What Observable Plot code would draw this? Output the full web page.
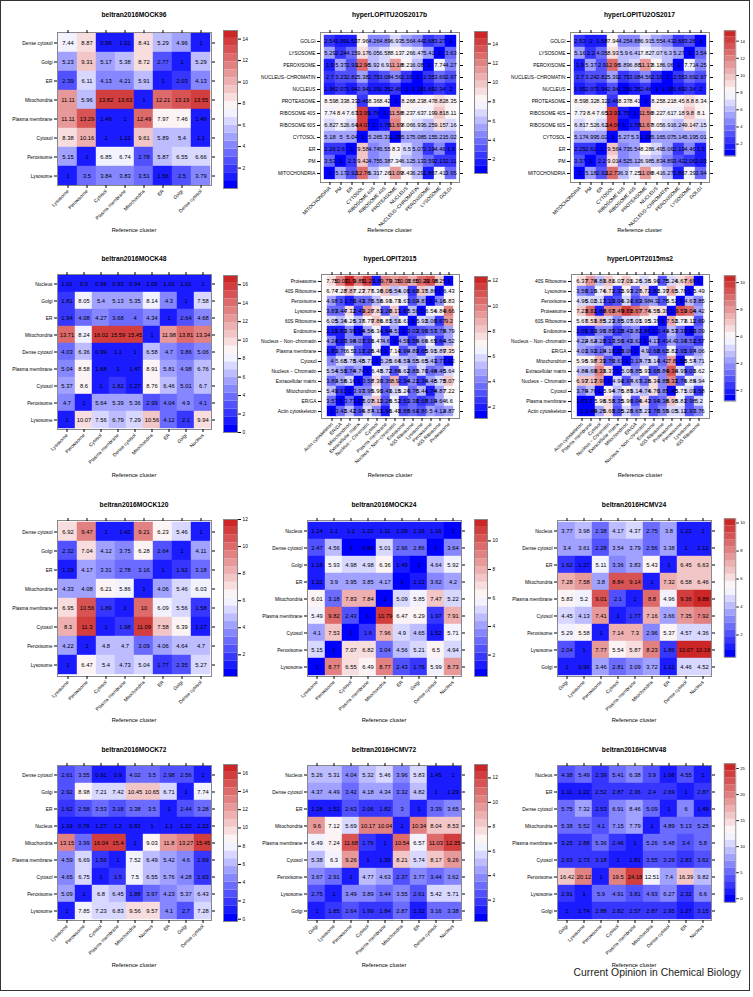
<!DOCTYPE html>
<html><head><meta charset="utf-8">
<script src="https://cdn.jsdelivr.net/npm/d3@7"></script>
<script src="https://cdn.jsdelivr.net/npm/@observablehq/plot@0.6"></script>
<style>
body{margin:0;background:#fff;font-family:"Liberation Sans",Arial,Helvetica,sans-serif;}
#page{position:relative;width:753px;height:997px;overflow:hidden;background:#fff;}
.abs{position:absolute;}
.title{font-weight:bold;font-size:6.7px;transform:translate(-50%,-50%);white-space:nowrap;color:#000;}
.xlab{font-size:5.7px;transform:translate(-50%,-50%);white-space:nowrap;color:#000;}
.cap{font-size:10.4px;white-space:nowrap;color:#222;}
#border{position:absolute;left:0;top:0;width:748px;height:989px;border:1.5px solid #333;}
svg{overflow:visible;}
</style></head><body><div id="page"><div id="border"></div></div>
<script>
// ---------------- DATA ----------------
const mock96Classes = ["Lysosome","Peroxisome","Cytosol","Plasma membrane","Mitochondria","ER","Golgi","Dense cytosol"];
const mock96Values = [
 [7.44,8.87,0.99,1.01,8.41,5.29,4.96,1],
 [5.23,9.31,5.17,5.38,8.72,2.77,1,5.29],
 [2.39,6.11,4.13,4.21,5.91,1,2.03,4.13],
 [11.11,5.96,13.82,13.63,1,12.21,13.19,13.55],
 [11.11,13.29,1.49,1,12.49,7.97,7.46,1.49],
 [8.38,10.16,1,1.12,9.61,5.89,5.4,1.1],
 [5.15,1,6.85,6.74,2.78,5.87,6.55,6.66],
 [1,3.5,3.84,3.83,3.51,1.56,2.5,3.79]];
const mock96Ticks = [2,4,6,8,10,12,14];

const u2os2017bClasses = ["MITOCHONDRIA","PM","ER","CYTOSOL","RIBOSOME 60S","RIBOSOME 40S","PROTEASOME","NUCLEUS","NUCLEUS\u2212CHROMATIN","PEROXISOME","LYSOSOME","GOLGI"];
const u2os2017bValues = [
 [2.54,1.99,1.53,7.96,4.26,4.89,6.93,5.56,4.44,2.68,3.27,1],
 [5.29,2.24,4.15,9.17,6.05,6.58,8.13,7.26,6.47,5.41,1,3.63],
 [1.9,5.37,2.91,12.96,5.92,6.9,11.18,8.21,6.08,1,7.74,4.27],
 [2.7,3.23,2.82,5.38,2.75,3.08,4.56,2.19,1,2.55,3.69,2.97],
 [1.96,2.07,1.94,2.94,1.29,1.35,2.46,1,1.18,1.69,2.34,2],
 [8.59,8.33,8.33,2.46,8.36,8.42,1,8.26,8.23,8.47,8.82,8.35],
 [7.74,8.4,7.67,13.95,1.76,1,11.58,8.23,7.63,7.19,9.81,8.11],
 [6.82,7.52,6.64,14.07,1,1.78,11.69,8.06,6.93,6.25,9.15,7.16],
 [5.18,5,5.04,1,5.26,5.31,1.28,5.17,5.08,5.15,5.21,5.02],
 [2.26,2.6,1,9.58,4.74,5.55,8.3,6.5,5.07,2.19,4.46,1.9],
 [3.53,1,2.3,9.42,4.75,5.38,7.34,6.12,5.13,3.59,2.13,2.11],
 [1,5.17,2.92,12.76,6.31,7.26,11.09,8.43,6.29,1.86,7.41,3.95]];
const u2os2017bTicks = [2,4,6,8,10,12,14];

const u2os2017Classes = ["MITOCHONDRIA","PM","ER","CYTOSOL","RIBOSOME 60S","RIBOSOME 40S","PROTEASOME","NUCLEUS","NUCLEUS\u2212CHROMATIN","PEROXISOME","LYSOSOME","GOLGI"];
const u2os2017Values = [
 [2.53,2,1.58,7.94,4.25,4.88,6.91,5.55,4.43,2.68,3.26,1],
 [5.16,2.2,4.05,8.93,5.9,6.41,7.82,7.07,6.3,5.27,1,3.54],
 [1.9,5.37,2.9,12.96,5.89,6.88,11.13,8.18,6.06,1,7.71,4.25],
 [2.7,3.24,2.82,5.39,2.75,3.08,4.56,2.19,1,2.55,3.69,2.97],
 [1.95,2.07,1.94,2.94,1.29,1.35,2.46,1,1.18,1.69,2.34,2],
 [8.59,8.32,8.32,2.46,8.37,8.41,1,8.25,8.21,8.45,8.8,8.34],
 [7.73,8.4,7.65,13.93,1.75,1,11.56,8.22,7.61,7.18,9.8,8.1],
 [6.81,7.52,6.62,14.04,1,1.78,11.67,8.05,6.91,6.24,9.14,7.15],
 [5.17,4.99,5.02,1,5.27,5.3,1.28,5.16,5.07,5.14,5.19,5.01],
 [2.25,2.61,1,9.56,4.73,5.54,8.28,6.49,5.06,2.19,4.46,1.9],
 [3.37,1,2.2,9.01,4.52,5.12,6.98,5.83,4.89,3.42,2.06,2.03],
 [1,5.18,2.92,12.73,6.3,7.25,11.06,8.41,6.27,1.86,7.39,3.94]];
const u2os2017Ticks = [2,4,6,8,10,12,14];

const mock48Classes = ["Lysosome","Peroxisome","Cytosol","Plasma membrane","Dense cytosol","Mitochondria","ER","Golgi","Nucleus"];
const mock48Values = [
 [1.01,0.9,0.96,0.93,0.94,1.05,1.02,1.01,1],
 [1.81,8.05,5.4,5.13,5.35,8.14,4.3,1,7.58],
 [1.94,4.08,4.27,3.68,4,4.34,1,2.64,4.68],
 [13.71,8.24,16.02,15.59,15.45,1,11.98,13.81,13.34],
 [4.03,6.36,0.99,1.1,1,6.58,4.7,3.86,5.06],
 [5.04,8.58,1.68,1,1.47,8.91,5.81,4.98,6.76],
 [5.37,8.6,1,1.82,1.27,8.76,6.46,5.01,6.7],
 [4.7,1,5.64,5.39,5.36,2.99,4.04,4.9,4.1],
 [1,10.07,7.56,6.79,7.29,10.56,4.12,2.1,9.94]];
const mock48Ticks = [0,2,4,6,8,10,12,14,16];

const lopit2015Classes = ["Actin cytoskeleton","ER/GA","Mitochondrion","Extracellular matrix","Nucleus \u2212 Chromatin","Cytosol","Plasma membrane","Nucleus \u2212 Non\u2212chromatin","Endosome","60S Ribosome","Lysosome","Peroxisome","40S Ribosome","Proteasome"];
const lopit2015Values = [
 [7.75,10.07,11.9,9.85,11.27,1.8,9.79,9.35,10.02,8.85,10.29,10.98,8.25,1],
 [6.74,7.28,7.87,7.23,7.77,6.36,8.06,5.54,6.06,2.63,8.37,5.86,1,6.43],
 [4.98,3,1.76,3.43,3.76,5.58,6.93,6.73,6.67,3.03,4.87,1,4.16,6.83],
 [3.83,3.44,7.32,2.43,9.26,7.81,3.26,8.17,1.67,5.59,1,6.54,6.84,9.66],
 [6.05,5.34,6.26,5.37,6.79,7.86,6.81,5.51,6.61,1,5.92,5.06,2.67,9.2],
 [2.19,1.83,3.99,1.34,4.56,6.34,1.94,4.51,1,3.03,2.96,3.57,3.75,4.79],
 [4.24,2.07,3.98,4.07,2.33,6.47,4.6,1,4.56,2.55,4.69,6.65,2.64,4.52],
 [1.83,3.76,6.5,3.17,2.28,6.48,1,7.14,2.99,4.89,2.65,5.91,5.89,7.35],
 [4,5.68,5.78,5.48,5.71,1,5.26,5.64,5.53,4.55,5.65,5.41,3.77,1.12],
 [5.54,4.56,3.74,4.74,1,6.48,5.72,2.84,5.62,3.83,5.76,3.48,4.45,5.64],
 [3.83,4.58,6.16,1,3.58,7.36,3.36,8.9,2.34,4.21,2.36,4.48,5.75,8.07],
 [5.49,2.61,1,3.97,3.95,6.96,3.43,6.15,6.24,3.76,5.44,1.74,4.87,7.22],
 [3.57,1,3.77,1.27,5.07,8.11,3.28,6.52,2.51,3.38,2.68,3.19,4.64,6.6],
 [1,3.42,5.42,2.94,5.87,4.13,1.96,6.48,2.88,3.64,2.86,5,4.12,4.87]];
const lopit2015Ticks = [2,4,6,8,10,12];

const lopit2015ms2Classes = ["Actin cytoskeleton","Plasma membrane","Cytosol","Nucleus \u2212 Chromatin","Extracellular matrix","Mitochondrion","ER/GA","Nucleus \u2212 Non\u2212chromatin","Endosome","60S Ribosome","Proteasome","Peroxisome","Lysosome","40S Ribosome"];
const lopit2015ms2Values = [
 [6.37,7.78,4.83,6.81,6.03,7.01,6.26,5.36,5.96,2.75,5.24,6.67,7.69,1],
 [3.56,3.19,5.74,6.71,2.32,5.93,3.27,6.72,1.82,5.39,7.65,5.78,1,5.49],
 [4.96,5.02,5.17,2.19,3.04,5.34,2.63,3.98,4.3,2.76,5.52,1,4.67,3.85],
 [7.23,8.82,1.69,8.63,8.49,9.81,8.67,7.74,6.55,6.39,1,9.53,9.04,4.42],
 [5.67,6.53,6.85,5.23,3.85,5.07,5.01,5.95,5.39,1,7.52,5.73,6.11,2.69],
 [2.09,1.93,3.96,3.89,2.28,3.41,3.82,1.86,1,2.41,4.53,3.31,0.96,3.09],
 [4.22,4.62,4.28,2.17,3.56,3.41,3.62,1,4.17,2.41,4.4,3.34,3.51,2.57],
 [4.01,3.92,3.19,4.18,1.28,3.06,1,4.9,2.68,2.62,5.82,2.95,2.97,4.06],
 [5.96,5.98,7.39,2.76,3.63,1,3.17,4.73,5.14,3.42,7.8,1.58,5.57,4.71],
 [4.86,4.69,8.33,6.37,1,5.08,3.85,5.93,2.68,3.84,9.36,4.99,3.03,5.62],
 [6.93,7.13,7.99,1,4.94,2.97,4.67,3.28,6.34,3.85,8.33,2.74,5.85,4.94],
 [3.79,4.76,1,5.94,4.76,5.89,5.14,4.74,6.76,3.85,1.45,5.71,5.09,2.58],
 [1.63,1,5.98,6.58,3.35,5.96,3.04,6.43,2.94,3.38,6.98,5.81,2.98,5.2],
 [1,1.45,4.25,6.68,3.05,5.28,3.67,5.23,2.78,3.59,5.05,5.11,2.97,3.76]];
const lopit2015ms2Ticks = [2,4,6,8,10];

const mock120Classes = ["Lysosome","Peroxisome","Cytosol","Plasma membrane","Mitochondria","ER","Golgi","Dense cytosol"];
const mock120Values = [
 [6.92,9.47,1,1.42,9.21,6.23,5.46,1],
 [2.32,7.04,4.12,3.75,6.28,2.64,1,4.11],
 [1.19,4.17,3.31,2.78,3.16,1,1.92,3.18],
 [4.33,4.08,6.21,5.86,1,4.06,5.46,6.03],
 [6.95,10.56,1.89,1,10,6.09,5.56,1.58],
 [8.3,11.3,1,1.98,11.09,7.58,6.39,1.17],
 [4.22,1,4.8,4.7,3.09,4.06,4.64,4.7],
 [1,6.47,5.4,4.73,5.04,1.77,2.35,5.27]];
const mock120Ticks = [2,4,6,8,10,12];

const mock24Classes = ["Lysosome","Peroxisome","Cytosol","Plasma membrane","Mitochondria","ER","Golgi","Dense cytosol","Nucleus"];
const mock24Values = [
 [1.14,1.1,1.2,1.22,1.11,1.09,1.16,1.16,1],
 [2.47,4.56,1,0.96,5.01,2.96,2.86,1,3.64],
 [1.18,5.93,4.98,4.98,6.36,1.49,1,4.64,5.92],
 [1.22,3.9,3.95,3.85,4.17,1,1.12,3.62,4.2],
 [6.01,3.18,7.83,7.84,1,5.09,5.85,7.47,5.22],
 [5.49,9.82,2.43,1,10.79,6.47,6.29,1.97,7.91],
 [4.1,7.53,1,1.6,7.96,4.9,4.65,1.52,5.71],
 [5.15,1,7.07,6.82,3.04,4.56,5.21,6.5,4.94],
 [1,8.77,6.55,6.49,8.77,2.43,1.76,5.99,8.73]];
const mock24Ticks = [2,4,6,8,10];

const hcmv24Classes = ["Golgi","Lysosome","Peroxisome","Cytosol","Plasma membrane","Mitochondria","ER","Dense cytosol","Nucleus"];
const hcmv24Values = [
 [3.77,3.98,2.38,4.17,4.37,2.75,3.8,1.22,1],
 [3.4,3.61,2.28,3.54,3.79,2.56,3.38,1,1.12],
 [1.62,1.27,5.11,3.36,3.83,5.43,1,6.45,6.63],
 [7.28,7.58,3.8,8.84,9.14,1,7.32,6.58,6.46],
 [5.83,5.2,9.01,2.1,1,8.8,4.96,9.36,9.88],
 [4.45,4.13,7.41,1,1.77,7.16,3.66,7.35,7.92],
 [5.29,5.58,1,7.14,7.3,2.96,5.37,4.57,4.36],
 [2.04,1,7.77,5.54,5.87,8.23,1.86,10.07,10.16],
 [1,0.96,3.46,2.81,3.09,3.72,1.12,4.46,4.52]];
const hcmv24Ticks = [2,4,6,8,10];

const mock72Classes = ["Lysosome","Peroxisome","Cytosol","Plasma membrane","Mitochondria","Nucleus","ER","Golgi","Dense cytosol"];
const mock72Values = [
 [2.61,3.55,0.91,0.9,4.02,3.5,2.98,2.56,1],
 [2.92,8.98,7.21,7.42,10.45,10.65,6.71,1,7.74],
 [1.62,2.58,3.53,3.18,3.38,3.5,1,2.44,3.28],
 [1.19,0.76,1.27,1.2,0.82,1,1.1,1.22,1.22],
 [13.15,3.99,16.04,15.4,1,9.03,11.8,13.27,15.45],
 [4.59,6.69,1.56,1,7.52,6.49,5.42,4.6,1.69],
 [4.65,6.75,1,1.5,7.5,6.55,5.76,4.28,1.63],
 [5.09,1,6.8,6.45,1.88,3.97,4.23,5.37,6.43],
 [1,7.85,7.23,6.83,9.56,9.57,4.1,2.7,7.28]];
const mock72Ticks = [0,2,4,6,8,10,12,14,16];

const hcmv72Classes = ["Golgi","Lysosome","Peroxisome","Cytosol","Plasma membrane","Mitochondria","ER","Dense cytosol","Nucleus"];
const hcmv72Values = [
 [5.26,5.31,4.04,5.32,5.46,3.96,5.83,1.45,1],
 [4.37,4.49,3.42,4.18,4.34,3.32,4.82,1,1.29],
 [1.28,1.52,2.63,2.06,1.82,3,1,3.39,3.65],
 [9.6,7.12,5.69,10.17,10.04,1,10.34,8.04,8.53],
 [6.49,7.24,11.68,1.76,1,10.54,6.57,11.03,12.35],
 [5.38,6.3,9.26,1,1.35,8.21,5.74,8.17,9.26],
 [3.67,2.91,1,4.77,4.63,2.37,3.77,3.44,3.62],
 [2.75,1,3.49,3.89,3.44,3.55,2.61,5.42,5.71],
 [1,1.85,2.64,1.99,1.84,2.87,1.32,3.16,3.38]];
const hcmv72Ticks = [2,4,6,8,10,12];

const hcmv48Classes = ["Golgi","Lysosome","Peroxisome","Cytosol","Plasma membrane","Mitochondria","Dense cytosol","ER","Nucleus"];
const hcmv48Values = [
 [4.38,5.49,2.39,5.41,6.38,3.9,1.06,4.55,1],
 [1.11,1.22,2.52,2.87,2.36,2.4,2.69,1,2.87],
 [5.75,7.32,2.53,6.91,8.46,5.09,1,6,1.49],
 [5.38,5.52,4.1,7.15,7.79,1,4.89,5.13,5.25],
 [3.25,2.88,5.36,2.46,1,5.26,5.48,3.4,5.8],
 [2.63,2.73,3.18,1,1.81,3.55,3.29,2.83,3.62],
 [16.42,20.12,1,19.5,24.18,12.51,7.4,16.39,9.82],
 [2.91,1,5.9,4.91,3.81,4.93,6.27,2.32,6.6],
 [1,1.74,2.88,2.82,2.57,2.87,2.95,1.27,3.15]];
const hcmv48Ticks = [0,5,10,15,20,25];

const panelTitles = ["beltran2016MOCK96","hyperLOPITU2OS2017b","hyperLOPITU2OS2017","beltran2016MOCK48","hyperLOPIT2015","hyperLOPIT2015ms2","beltran2016MOCK120","beltran2016MOCK24","beltran2016HCMV24","beltran2016MOCK72","beltran2016HCMV72","beltran2016HCMV48"];
const panelClasses = [mock96Classes,u2os2017bClasses,u2os2017Classes,mock48Classes,lopit2015Classes,lopit2015ms2Classes,mock120Classes,mock24Classes,hcmv24Classes,mock72Classes,hcmv72Classes,hcmv48Classes];
const panelValues = [mock96Values,u2os2017bValues,u2os2017Values,mock48Values,lopit2015Values,lopit2015ms2Values,mock120Values,mock24Values,hcmv24Values,mock72Values,hcmv72Values,hcmv48Values];
const panelTicks = [mock96Ticks,u2os2017bTicks,u2os2017Ticks,mock48Ticks,lopit2015Ticks,lopit2015ms2Ticks,mock120Ticks,mock24Ticks,hcmv24Ticks,mock72Ticks,hcmv72Ticks,hcmv48Ticks];
// colour-key value range of each panel
const panelKeyRange = [[0.1,14.8],[0.55,15.3],[0.6,15.2],[0,17],[1.1,12.35],[1.2,10.5],[0.4,12],[0.5,11.5],[0.4,10.3],[-0.25,16.95],[0.25,13.1],[-0.7,25.9]];
const axisTitle = "Reference cluster";
const caption = "Current Opinion in Chemical Biology";

// ---------------- LAYOUT ----------------
const colX = [0,250,500];
const layout = [
 {box:[57,211,32,185], key:[223,237,30,188], ty:14, ly:230},
 {box:[320,459,32,182], key:[474,487,31,173], ty:14, ly:230},
 {box:[570,709,32,182], key:[724,737,31,173], ty:14, ly:230},
 {box:[57,211,274,429], key:[223,237,275,432], ty:258, ly:475},
 {box:[321,459,274,418], key:[474,487,276,418], ty:258, ly:475},
 {box:[571,709,274,418], key:[724,737,276,418], ty:258, ly:475},
 {box:[57,211,520,676], key:[223,237,519,676], ty:504, ly:720},
 {box:[307,461,520,676], key:[474,487,519,676], ty:504, ly:720},
 {box:[557,711,520,676], key:[724,737,519,676], ty:504, ly:720},
 {box:[57,211,765,920], key:[223,237,764,921], ty:749, ly:965},
 {box:[307,461,765,920], key:[474,487,764,921], ty:749, ly:965},
 {box:[557,711,765,920], key:[724,737,764,921], ty:749, ly:965}];

const FONT = '"Liberation Sans", Arial, Helvetica, sans-serif';
const NBINS = 20;
function rampColor(t){
  return t <= 0.5 ? d3.interpolateRgb("#0000FF", "#FFFFFF")(t*2)
                  : d3.interpolateRgb("#FFFFFF", "#CD2626")((t-0.5)*2);
}

const page = document.getElementById("page");
function place(el, left, top){
  const d = document.createElement("div");
  d.className = "abs"; d.style.left = left+"px"; d.style.top = top+"px";
  d.appendChild(el); page.appendChild(d); return d;
}
function label(text, cls, x, y){
  const d = document.createElement("div");
  d.className = "abs " + cls; d.style.left = x+"px"; d.style.top = y+"px";
  d.textContent = text; page.appendChild(d);
}

panelTitles.forEach((title, p) => {
  const classes = panelClasses[p];
  const rows = classes.slice().reverse();
  const vals = panelValues[p];
  const [lo, hi] = panelKeyRange[p];
  const L = layout[p];
  const [x0,x1,y0,y1] = L.box;
  const cx = colX[p % 3];
  const edges = d3.range(NBINS + 1).map(i => lo + i*(hi-lo)/NBINS);
  const breaks = edges.slice(1, NBINS);
  const colors = d3.range(NBINS).map(i => rampColor(i/(NBINS-1)));
  const color = {type:"threshold", domain: breaks, range: colors, unknown: "#0000FF"};
  const data = [];
  rows.forEach((r,i) => classes.forEach((c,j) => data.push({row:r, col:c, v: vals[i][j]})));

  const sTop = y0 - 10;
  const width = x1 + 10 - cx, height = (y1 - sTop) + 60;
  const heat = Plot.plot({
    width, height,
    marginLeft: x0 - cx, marginRight: width - (x1 - cx),
    marginTop: y0 - sTop, marginBottom: height - (y1 - sTop),
    x: {domain: classes, padding: 0, axis: null},
    y: {domain: rows, padding: 0, axis: null},
    color,
    style: {fontFamily: FONT, fontSize: "4.8px", background: "transparent", overflow: "visible", color: "#000"},
    marks: [
      Plot.cell(data, {x:"col", y:"row", fill:"v", inset: -0.2}),
      Plot.text(data, {x:"col", y:"row", text: d => String(d.v), fontSize: 5.8, fill: "#000"}),
      Plot.frame({stroke:"#888", strokeWidth: 1}),
      Plot.axisY({anchor:"left", tickSize: 3, tickPadding: 2, label: null, fontSize: 4.8}),
      Plot.axisY({anchor:"right", tickSize: 3, tickFormat: () => "", label: null}),
      Plot.axisX({anchor:"bottom", tickSize: 3, tickPadding: 2, tickRotate: -45, label: null, fontSize: 4.8}),
      Plot.axisX({anchor:"top", tickSize: 3, tickFormat: () => "", label: null})
    ]
  });
  place(heat, cx, sTop);

  // colour key
  const [kx0,kx1,ky0,ky1] = L.key;
  const bins = d3.range(NBINS).map(i => ({a: edges[i], b: edges[i+1]}));
  const kw = 34, kh = (ky1-ky0) + 10;
  const key = Plot.plot({
    width: kw, height: kh,
    marginLeft: 1, marginRight: kw - 1 - (kx1-kx0), marginTop: 5, marginBottom: 5,
    x: {domain:[0,1], axis:null},
    y: {domain:[lo,hi], axis:null},
    color,
    style: {fontFamily: FONT, fontSize: "4.8px", background: "transparent", overflow: "visible", color:"#000"},
    marks: [
      Plot.rect(bins, {x1: 0, x2: 1, y1: "a", y2: "b", fill: d => (d.a+d.b)/2}),
      Plot.frame({stroke:"#888", strokeWidth: 1}),
      Plot.axisY({anchor:"right", ticks: panelTicks[p], tickSize: 3, tickPadding: 2, label: null, fontSize: 4.8})
    ]
  });
  place(key, kx0 - 1, ky0 - 5);

  label(title, "title", (x0+x1)/2, L.ty);
  label(axisTitle, "xlab", (x0+x1)/2, L.ly);
});

const cap = document.createElement("div");
cap.className = "abs cap"; cap.style.right = "12px"; cap.style.top = "967px";
cap.textContent = caption; page.appendChild(cap);
</script></body></html>
